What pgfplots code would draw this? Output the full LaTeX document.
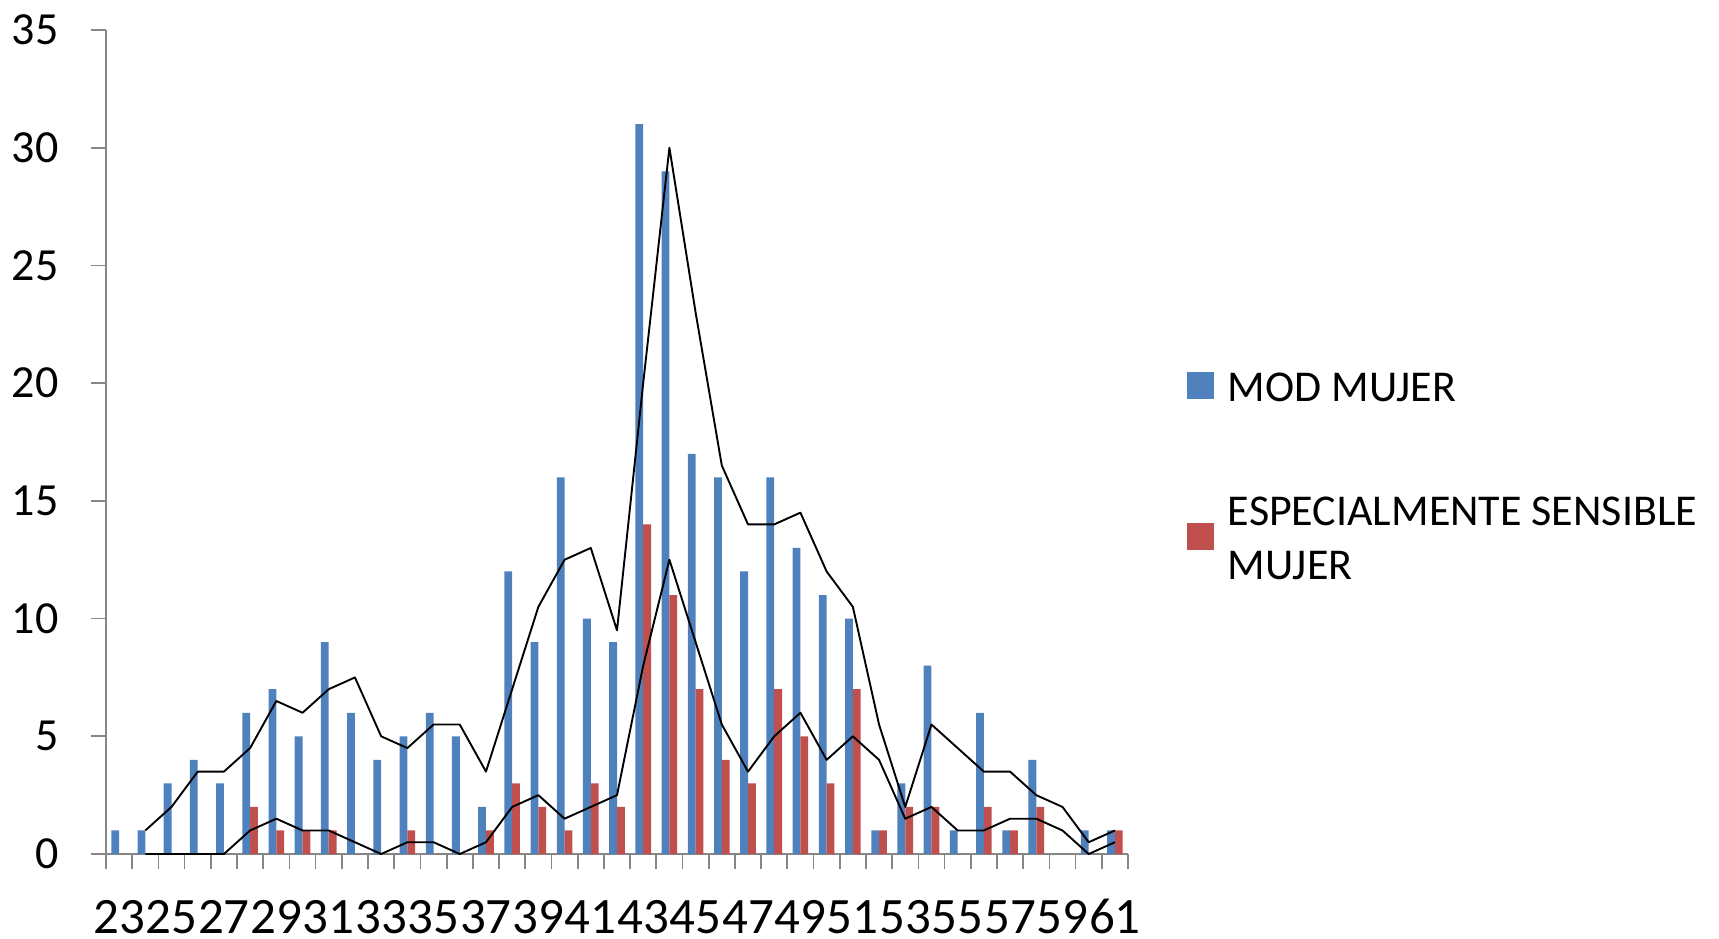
\documentclass[border=0pt]{standalone}
\usepackage{pgfplots}
\pgfplotsset{compat=1.18}
\usepackage{fontspec}
\setmainfont{Carlito}
\definecolor{modblue}{HTML}{4F81BD}
\definecolor{esred}{HTML}{C0504D}
\definecolor{axgray}{HTML}{868686}

\begin{document}
\begin{tikzpicture}
\path[use as bounding box] (0pt,0pt) rectangle (859.5pt,-469pt);
\begin{axis}[
    at={(53pt,-427pt)}, anchor=south west,
    scale only axis, width=511pt, height=412pt,
    xmin=22.5, xmax=61.5, ymin=0, ymax=35,
    axis lines*=left,
    axis line style={axgray, line width=0.85pt},
    tick align=outside,
    tick style={axgray, line width=0.85pt},
    major tick length=7.5pt,
    xtick={22.5,23.5,...,61.5},
    xticklabels={23,,25,,27,,29,,31,,33,,35,,37,,39,,41,,43,,45,,47,,49,,51,,53,,55,,57,,59,,61,},
    ytick={0,5,...,35},
    minor tick num=0,
    /pgf/number format/assume math mode=true,
    yticklabel style={font=\fontsize{23pt}{27pt}\selectfont, anchor=east, inner sep=0pt, xshift=-16pt},
    xticklabel style={font=\fontsize{25.5pt}{30pt}\selectfont, anchor=base, inner sep=0pt,
        xshift=6.55pt, yshift=-32pt},
    legend image code/.code={\fill[#1] (0pt,-5.1pt) rectangle (13.5pt,8.4pt);},
    legend style={draw=none, fill=none, inner sep=0pt, outer sep=0pt,
        at={(1.0577,0.585)}, anchor=north west,
        nodes={inner sep=0pt, outer sep=0pt, align=left},
        column sep=7pt, row sep=46pt,
        font=\fontsize{22pt}{27pt}\selectfont},
    legend cell align=left,
]
% MOD MUJER
\addplot[ybar, bar width=3.9pt, bar shift=-1.95pt, fill=modblue, draw=none]
coordinates {
(23,1) (24,1) (25,3) (26,4) (27,3) (28,6) (29,7) (30,5) (31,9) (32,6)
(33,4) (34,5) (35,6) (36,5) (37,2) (38,12) (39,9) (40,16) (41,10) (42,9)
(43,31) (44,29) (45,17) (46,16) (47,12) (48,16) (49,13) (50,11) (51,10) (52,1)
(53,3) (54,8) (55,1) (56,6) (57,1) (58,4) (59,0) (60,1) (61,1)
};
% ESPECIALMENTE SENSIBLE MUJER
\addplot[ybar, bar width=3.9pt, bar shift=1.95pt, fill=esred, draw=none]
coordinates {
(23,0) (24,0) (25,0) (26,0) (27,0) (28,2) (29,1) (30,1) (31,1) (32,0)
(33,0) (34,1) (35,0) (36,0) (37,1) (38,3) (39,2) (40,1) (41,3) (42,2)
(43,14) (44,11) (45,7) (46,4) (47,3) (48,7) (49,5) (50,3) (51,7) (52,1)
(53,2) (54,2) (55,0) (56,2) (57,1) (58,2) (59,0) (60,0) (61,1)
};
\legend{MOD MUJER, ESPECIALMENTE SENSIBLE\\MUJER}
% moving averages (period 2)
\addplot[black, line width=0.95pt, line join=round, mark=none, forget plot]
coordinates {
(24,1) (25,2) (26,3.5) (27,3.5) (28,4.5) (29,6.5) (30,6) (31,7) (32,7.5)
(33,5) (34,4.5) (35,5.5) (36,5.5) (37,3.5) (38,7) (39,10.5) (40,12.5) (41,13)
(42,9.5) (43,20) (44,30) (45,23) (46,16.5) (47,14) (48,14) (49,14.5) (50,12)
(51,10.5) (52,5.5) (53,2) (54,5.5) (55,4.5) (56,3.5) (57,3.5) (58,2.5) (59,2)
(60,0.5) (61,1)
};
\addplot[black, line width=0.95pt, line join=round, mark=none, forget plot]
coordinates {
(24,0) (25,0) (26,0) (27,0) (28,1) (29,1.5) (30,1) (31,1) (32,0.5)
(33,0) (34,0.5) (35,0.5) (36,0) (37,0.5) (38,2) (39,2.5) (40,1.5) (41,2)
(42,2.5) (43,8) (44,12.5) (45,9) (46,5.5) (47,3.5) (48,5) (49,6) (50,4)
(51,5) (52,4) (53,1.5) (54,2) (55,1) (56,1) (57,1.5) (58,1.5) (59,1)
(60,0) (61,0.5)
};
\end{axis}
\end{tikzpicture}
\end{document}
